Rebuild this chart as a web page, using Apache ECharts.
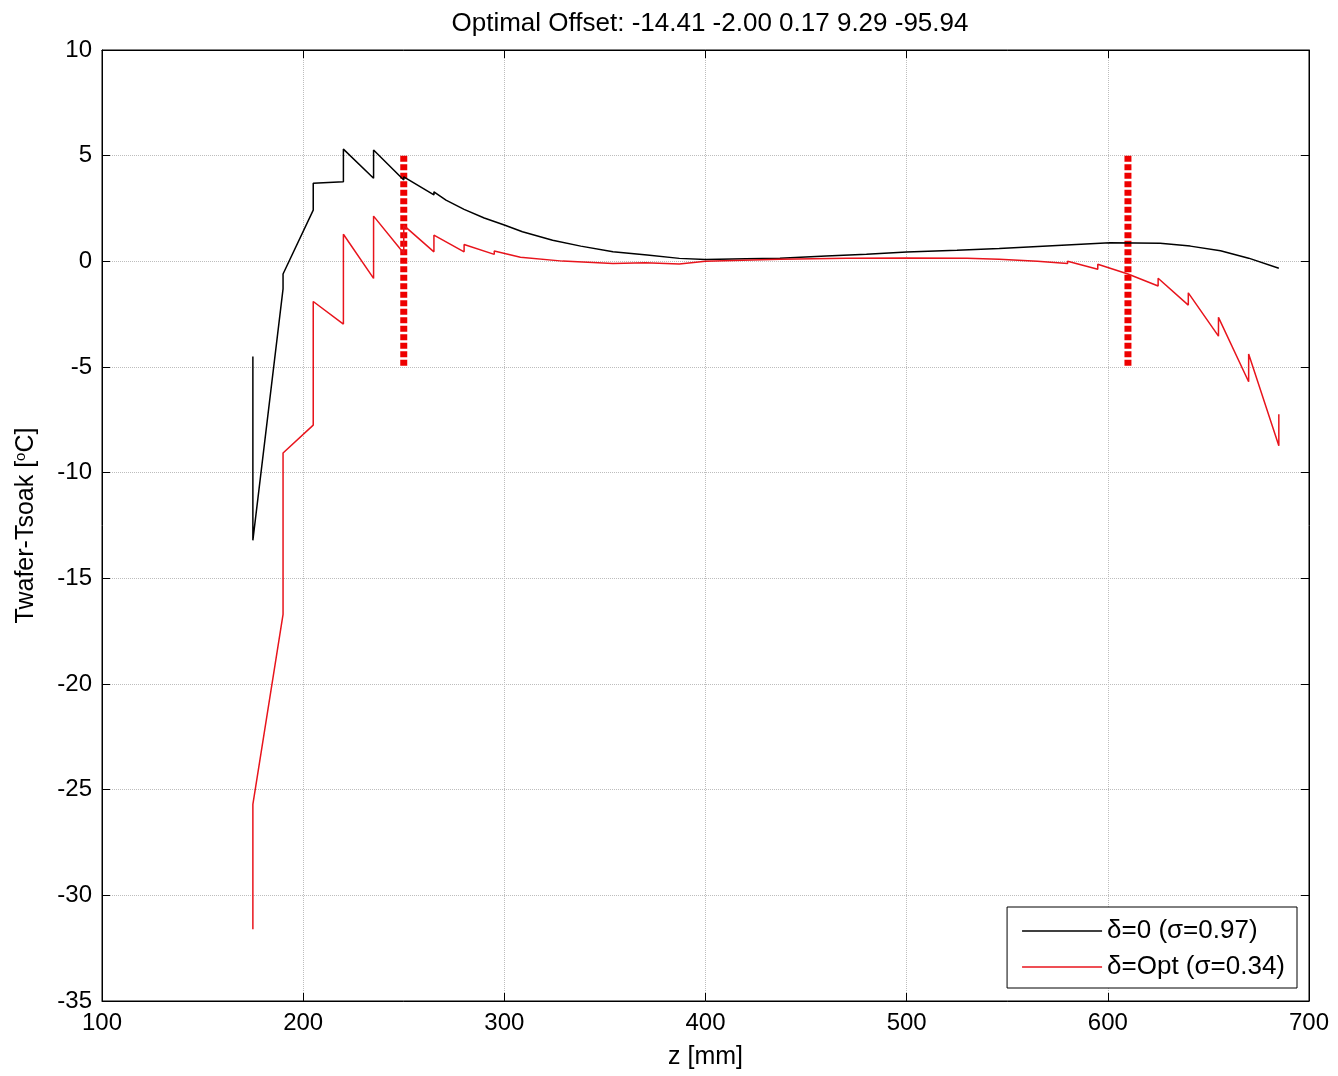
<!DOCTYPE html>
<html>
<head>
<meta charset="utf-8">
<script src="https://cdn.jsdelivr.net/npm/echarts@6/dist/echarts.min.js"></script>
<style>html,body{margin:0;padding:0;background:#fff}#c{width:1338px;height:1076px}</style>
</head>
<body>
<div id="c"></div>
<script>
const titleText = 'Optimal Offset: -14.41 -2.00 0.17 9.29 -95.94';
const xName = 'z [mm]';
const xTicks = [100, 200, 300, 400, 500, 600, 700];
const yTicks = [-35, -30, -25, -20, -15, -10, -5, 0, 5, 10];
const seriesNames = ['δ=0 (σ=0.97)', 'δ=Opt (σ=0.34)'];

const delta0 = [
  [175, -4.5], [175, -13.2], [190, -1.3], [190, -0.6], [205, 2.42], [205, 3.69],
  [220, 3.77], [220, 5.31], [235, 3.93], [235, 5.27], [250, 3.85], [250, 4.0],
  [265, 3.14], [265, 3.29], [271, 2.9], [280, 2.46], [290, 2.05], [300, 1.72],
  [309, 1.4], [324, 1.0], [338, 0.72], [354, 0.45], [371, 0.3], [387, 0.14],
  [400, 0.09], [420, 0.12], [437, 0.15], [460, 0.25], [480, 0.33], [500, 0.44],
  [525, 0.53], [546, 0.61], [570, 0.73], [601, 0.88], [626, 0.85], [641, 0.72],
  [656, 0.5], [670, 0.15], [685, -0.33]
];
const deltaOpt = [
  [175, -31.6], [175, -25.7], [190, -16.7], [190, -9.07], [205, -7.75], [205, -1.9],
  [220, -2.97], [220, 1.28], [235, -0.81], [235, 2.14], [250, 0.38], [250, 1.7],
  [265, 0.45], [265, 1.24], [280, 0.45], [280, 0.8], [295, 0.33], [295, 0.49],
  [308, 0.19], [329, 0.01], [354, -0.1], [370, -0.07], [387, -0.13], [400, 0.0],
  [437, 0.1], [470, 0.14], [500, 0.16], [530, 0.15], [546, 0.1], [565, 0.0],
  [580, -0.1], [580, 0.0], [595, -0.37], [595, -0.14], [610, -0.6], [625, -1.17],
  [625, -0.8], [640, -2.07], [640, -1.49], [655, -3.54], [655, -2.65], [670, -5.7],
  [670, -4.39], [685, -8.73], [685, -7.23]
];
const markerLeft = [[250, 5], [250, -5]];
const markerRight = [[610, 5], [610, -5]];

const FONT = '"Liberation Sans", Arial, sans-serif';
const FS = 24;
const chart = echarts.init(document.getElementById('c'));
const baseX = {
  type: 'value', min: xTicks[0], max: xTicks[xTicks.length - 1], interval: 100
};
const baseY = {
  type: 'value', min: yTicks[0], max: yTicks[yTicks.length - 1], interval: 5
};
const line = { show: true, onZero: false, lineStyle: { color: '#000', width: 1 } };
const tick = { inside: true, length: 8, lineStyle: { color: '#000' } };
const grid = { show: true, lineStyle: { color: '#bdbdbd', type: 'dotted', width: 1 } };
chart.setOption({
  animation: false,
  backgroundColor: '#fff',
  title: {
    text: titleText, left: 705, top: 6, textAlign: 'center',
    textStyle: { fontFamily: FONT, fontSize: 26, fontWeight: 'normal', color: '#000' }
  },
  grid: { left: 102, right: 29, top: 50, bottom: 75, show: true, borderColor: '#000', borderWidth: 1 },
  legend: {
    data: seriesNames, orient: 'vertical', right: 41, bottom: 88,
    backgroundColor: '#fff', borderColor: '#000', borderWidth: 1, borderRadius: 0,
    padding: [11, 12, 8, 15], itemGap: 10, itemWidth: 80, itemHeight: 1.5, icon: 'rect',
    textStyle: { fontFamily: FONT, fontSize: 26, color: '#000' }
  },
  xAxis: [
    Object.assign({}, baseX, {
      position: 'bottom', name: xName, nameLocation: 'middle', nameGap: 44,
      nameTextStyle: { fontFamily: FONT, fontSize: 25, color: '#000' },
      axisLine: line, axisTick: tick,
      axisLabel: { fontFamily: FONT, fontSize: FS, color: '#000', margin: 10 },
      splitLine: grid
    }),
    Object.assign({}, baseX, {
      position: 'top', axisLine: line, axisTick: tick,
      axisLabel: { show: false }, splitLine: { show: false }
    })
  ],
  yAxis: [
    Object.assign({}, baseY, {
      position: 'left',
      name: '{n|Twafer-Tsoak [}{s|o}{n|C]}', nameLocation: 'middle', nameGap: 62,
      nameTextStyle: {
        fontFamily: FONT, fontSize: 25, color: '#000',
        rich: {
          n: { fontFamily: FONT, fontSize: 25, color: '#000' },
          s: { fontFamily: FONT, fontSize: 15, color: '#000', verticalAlign: 'top', padding: [0, 0, 12, 0] }
        }
      },
      axisLine: line, axisTick: tick,
      axisLabel: { fontFamily: FONT, fontSize: FS, color: '#000', margin: 10 },
      splitLine: grid
    }),
    Object.assign({}, baseY, {
      position: 'right', axisLine: line, axisTick: tick,
      axisLabel: { show: false }, splitLine: { show: false }
    })
  ],
  series: [
    {
      name: 'marker-left', type: 'line', data: markerLeft, symbol: 'none', silent: true,
      lineStyle: { color: '#ee0000', width: 7, type: [6, 2.5], cap: 'butt' }, z: 3
    },
    {
      name: 'marker-right', type: 'line', data: markerRight, symbol: 'none', silent: true,
      lineStyle: { color: '#ee0000', width: 7, type: [6, 2.5], cap: 'butt' }, z: 3
    },
    {
      name: seriesNames[0], type: 'line', data: delta0, symbol: 'none',
      color: '#000', lineStyle: { color: '#000', width: 1.5 }, z: 4
    },
    {
      name: seriesNames[1], type: 'line', data: deltaOpt, symbol: 'none',
      color: '#e8141c', lineStyle: { color: '#e8141c', width: 1.5 }, z: 4
    }
  ]
});
</script>
</body>
</html>
